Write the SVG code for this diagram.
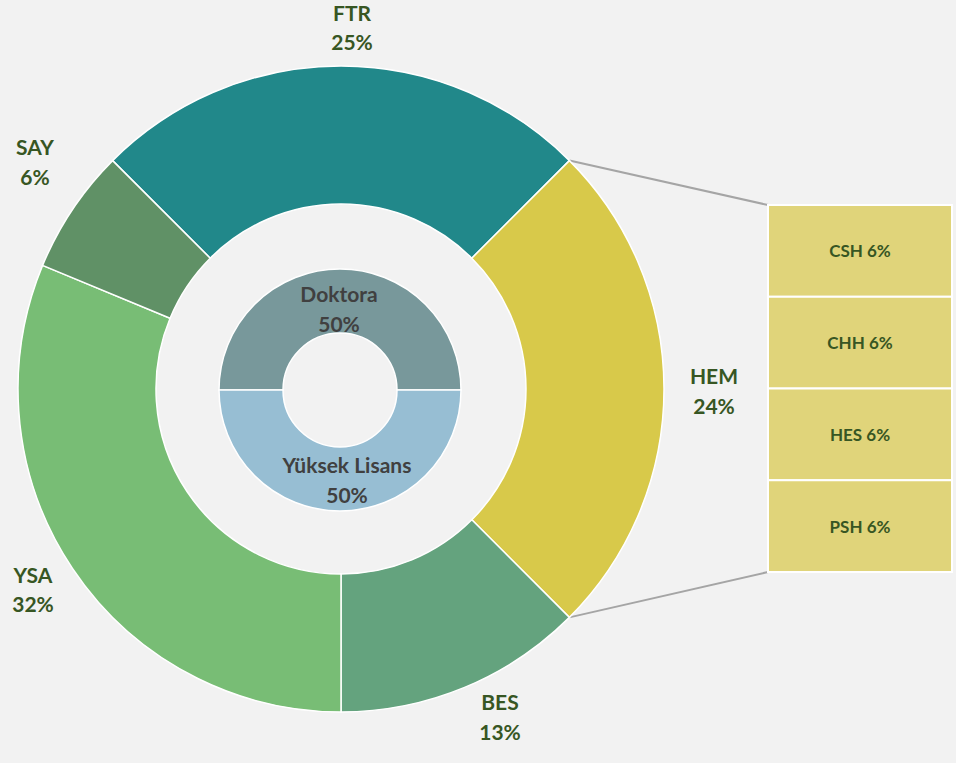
<svg xmlns="http://www.w3.org/2000/svg" width="956" height="763" viewBox="0 0 956 763">
<style>
.seg{stroke:#FFFFFF;stroke-width:1.5}
.lbl{font-family:Lato,"Open Sans","Liberation Sans",sans-serif;font-weight:bold;font-size:21px;fill:#375623;text-anchor:middle}
.ilbl{font-family:Lato,"Open Sans","Liberation Sans",sans-serif;font-weight:bold;font-size:21px;fill:#404040;text-anchor:middle}
.blbl{font-family:Lato,"Open Sans","Liberation Sans",sans-serif;font-weight:bold;font-size:17px;fill:#375623;text-anchor:middle}
.box{fill:#E0D47A;stroke:#FFFFFF;stroke-width:2}
.conn{stroke:#A5A5A5;stroke-width:2;fill:none}
</style>
<rect x="0" y="0" width="956" height="763" fill="#F2F2F2"/>
<g id="connectors">
<line class="conn" x1="569.4" y1="160.6" x2="768" y2="205"/>
<line class="conn" x1="569.4" y1="617.4" x2="768" y2="572"/>
</g>
<g id="FTR">
<path class="seg" fill="#21888A" d="M112.60,160.60 A323,323 0 0 1 569.40,160.60 L471.81,258.19 A185,185 0 0 0 210.19,258.19 Z"/>
<text class="lbl" x="352" y="21">FTR</text>
<text class="lbl" x="352" y="50">25%</text>
</g>
<g id="HEM">
<path class="seg" fill="#D8C94A" d="M569.40,160.60 A323,323 0 0 1 569.40,617.40 L471.81,519.81 A185,185 0 0 0 471.81,258.19 Z"/>
<text class="lbl" x="714" y="384">HEM</text>
<text class="lbl" x="714" y="414">24%</text>
</g>
<g id="BES">
<path class="seg" fill="#64A37E" d="M569.40,617.40 A323,323 0 0 1 341,712 L341,574 A185,185 0 0 0 471.81,519.81 Z"/>
<text class="lbl" x="500" y="710">BES</text>
<text class="lbl" x="500" y="740">13%</text>
</g>
<g id="YSA">
<path class="seg" fill="#78BD75" d="M341,712 A323,323 0 0 1 42.59,265.39 L170.08,318.20 A185,185 0 0 0 341,574 Z"/>
<text class="lbl" x="33" y="583">YSA</text>
<text class="lbl" x="33" y="612">32%</text>
</g>
<g id="SAY">
<path class="seg" fill="#609166" d="M42.59,265.39 A323,323 0 0 1 112.60,160.60 L210.19,258.19 A185,185 0 0 0 170.08,318.20 Z"/>
<text class="lbl" x="35" y="155">SAY</text>
<text class="lbl" x="35" y="185">6%</text>
</g>
<g id="Doktora">
<path class="seg" fill="#78989B" d="M219,390 A121,121 0 0 1 461,390 L397,390 A57,57 0 0 0 283,390 Z"/>
<text class="ilbl" x="339" y="302">Doktora</text>
<text class="ilbl" x="339" y="332">50%</text>
</g>
<g id="YuksekLisans">
<path class="seg" fill="#97BED3" d="M461,390 A121,121 0 0 1 219,390 L283,390 A57,57 0 0 0 397,390 Z"/>
<text class="ilbl" x="347" y="473">Yüksek Lisans</text>
<text class="ilbl" x="347" y="503">50%</text>
</g>
<g id="CSH">
<rect class="box" x="768" y="205" width="184" height="91.75"/>
<text class="blbl" x="860" y="257">CSH 6%</text>
</g>
<g id="CHH">
<rect class="box" x="768" y="296.75" width="184" height="91.75"/>
<text class="blbl" x="860" y="349">CHH 6%</text>
</g>
<g id="HES">
<rect class="box" x="768" y="388.5" width="184" height="91.75"/>
<text class="blbl" x="860" y="441">HES 6%</text>
</g>
<g id="PSH">
<rect class="box" x="768" y="480.25" width="184" height="91.75"/>
<text class="blbl" x="860" y="533">PSH 6%</text>
</g>
</svg>
